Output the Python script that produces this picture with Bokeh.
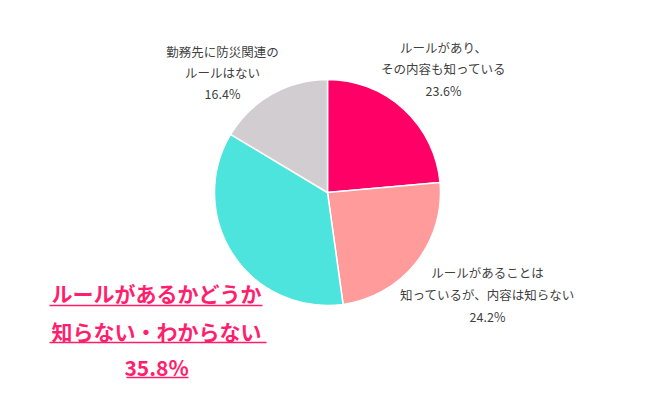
import numpy as np
from bokeh.plotting import figure
from bokeh.models import Range1d, ColumnDataSource
from bokeh.core.properties import value
from bokeh.embed import file_html
from bokeh.resources import INLINE

# data
categories = ["ルールがあり、その内容も知っている",
              "ルールがあることは知っているが、内容は知らない",
              "ルールがあるかどうか知らない・わからない",
              "勤務先に防災関連のルールはない"]
shares = [23.6, 24.2, 35.8, 16.4]
colors = ["#FF0066", "#FF9B9B", "#4CE4DD", "#D1CDD0"]

W, H = 634, 384
p = figure(width=W, height=H, output_backend="svg", toolbar_location=None,
           x_range=Range1d(0, W), y_range=Range1d(16, 16 + H),
           min_border=0, outline_line_color=None)
p.axis.visible = False
p.grid.visible = False
p.background_fill_color = "white"

def Y(img_y):
    return 400 - img_y

cx, cy, r = 327, Y(192), 113
frac = np.array(shares) / sum(shares)
cum = np.concatenate([[0], np.cumsum(frac)])
start = np.pi / 2 - cum[:-1] * 2 * np.pi
end = np.pi / 2 - cum[1:] * 2 * np.pi
src = ColumnDataSource(dict(start=start, end=end, color=colors))
p.wedge(x=cx, y=cy, radius=r, start_angle="end", end_angle="start",
        fill_color="color", line_color="white", line_width=1.5, source=src)

font = value("Noto Sans CJK JP")
gray = "#3f3f3f"

def lines(x, ys, texts, size, color, bold):
    p.text(x=[x] * len(texts), y=[Y(v) for v in ys], text=texts,
           text_font=font, text_font_size=size, text_color=color,
           text_align="center", text_baseline="middle",
           text_font_style="bold" if bold else "normal")

lines(222, [51, 72, 93], ["勤務先に防災関連の", "ルールはない", f"{shares[3]}%"], "12.5px", gray, False)
lines(443, [47, 68, 90], ["ルールがあり、", "その内容も知っている", f"{shares[0]}%"], "12.5px", gray, False)
lines(487, [272, 294, 316], ["ルールがあることは", "知っているが、内容は知らない", f"{shares[1]}%"], "12.5px", gray, False)

big = "#FF1F6E"
lines(156, [292, 330, 366], ["ルールがあるかどうか", "知らない・わからない", f"{shares[2]}%"], "21px", big, True)
p.segment(x0=[49, 49, 126], y0=[Y(305), Y(342), Y(377)],
          x1=[262, 266, 188], y1=[Y(305), Y(342), Y(377)],
          line_color=big, line_width=1.5)

open("out.html", "w").write(file_html(p, INLINE))
